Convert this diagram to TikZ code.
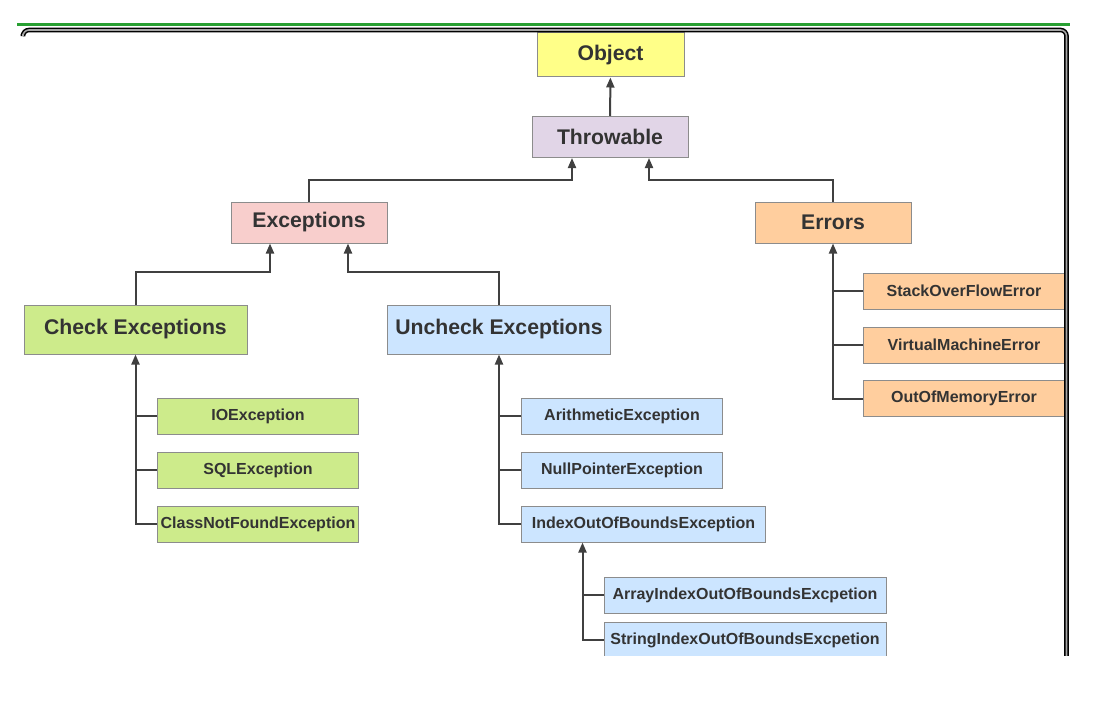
\documentclass[tikz,border=0pt]{standalone}
\usepackage{fontspec}
\setmainfont{Liberation Sans}
\usetikzlibrary{arrows.meta,positioning}
\definecolor{objyellow}{RGB}{255,255,136}
\definecolor{thrpurple}{RGB}{225,213,231}
\definecolor{excpink}{RGB}{248,206,204}
\definecolor{errorange}{RGB}{255,206,158}
\definecolor{chkgreen}{RGB}{205,235,139}
\definecolor{uncblue}{RGB}{204,229,255}
\definecolor{boxgray}{RGB}{140,140,140}
\definecolor{labelgray}{RGB}{51,51,51}
\definecolor{linkgray}{RGB}{64,64,64}
\definecolor{framegreen}{RGB}{40,160,50}

\begin{document}
\begin{tikzpicture}[x=0.5pt,y=-0.5pt,
    box/.style={draw=boxgray, line width=0.5pt, text=labelgray, inner sep=0pt,
      font=\bfseries\fontsize{10.6}{12}\selectfont, minimum width=78pt, minimum height=20.5pt},
    leaf/.style={box, font=\bfseries\fontsize{8}{9}\selectfont, minimum width=100.5pt, minimum height=18pt},
    link/.style={draw=linkgray, line width=1pt, -{Triangle[length=5pt,width=4pt]}},
    stub/.style={draw=linkgray, line width=1pt}]
\useasboundingbox (0,0) rectangle (1107,717);
\begin{scope}
\clip (0,0) rectangle (1107,655);

% Top of the hierarchy
\node[box, fill=objyellow, minimum width=73.5pt, minimum height=22pt] (obj) at (610.5,55) {Object};
\node[box, fill=thrpurple] (thr) at (610,137) {Throwable};
\node[box, fill=excpink] (exc) at (309,222.5) {Exceptions};
\node[box, fill=errorange] (err) at (833,222.5) {Errors};

% Exception kinds
\node[box, fill=chkgreen, minimum width=111.5pt, minimum height=24.5pt] (chk) at (135.5,329.5) {Check Exceptions};
\node[box, fill=uncblue, minimum width=111.5pt, minimum height=24.5pt] (unc) at (499,329.5) {Uncheck Exceptions};

% Checked exceptions
\node[leaf, fill=chkgreen] (ioe) at (258,416) {IOException};
\node[leaf, fill=chkgreen] (sqle) at (258,470) {SQLException};
\node[leaf, fill=chkgreen] (cnfe) at (258,524) {ClassNotFoundException};

% Unchecked exceptions
\node[leaf, fill=uncblue] (arie) at (622,416) {ArithmeticException};
\node[leaf, fill=uncblue] (npe) at (622,470) {NullPointerException};
\node[leaf, fill=uncblue, minimum width=122pt] (ioobe) at (643.5,524) {IndexOutOfBoundsException};
\node[leaf, fill=uncblue, minimum width=141pt] (aioobe) at (745,595) {ArrayIndexOutOfBoundsExcpetion};
\node[leaf, fill=uncblue, minimum width=141pt] (sioobe) at (745,640) {StringIndexOutOfBoundsExcpetion};

% Errors
\node[leaf, fill=errorange] (soe) at (964,291) {StackOverFlowError};
\node[leaf, fill=errorange] (vme) at (964,345) {VirtualMachineError};
\node[leaf, fill=errorange] (oome) at (964,398.5) {OutOfMemoryError};

% Connections
\draw[link] (thr) -- (obj);
\draw[link] (exc.north) -- ++(0,-22) -| ([xshift=-19pt]thr.south);
\draw[link] (err.north) -- ++(0,-22) -| ([xshift=19.5pt]thr.south);
\draw[link] (chk.north) -- ++(0,-33) -| ([xshift=-19.5pt]exc.south);
\draw[link] (unc.north) -- ++(0,-33) -| ([xshift=19.5pt]exc.south);

\draw[link] (cnfe.west) -| (chk.south);
\draw[stub] (ioe.west) -- (ioe.west -| chk.south);
\draw[stub] (sqle.west) -- (sqle.west -| chk.south);

\draw[link] (ioobe.west) -| (unc.south);
\draw[stub] (arie.west) -- (arie.west -| unc.south);
\draw[stub] (npe.west) -- (npe.west -| unc.south);

\draw[link] (sioobe.west) -| ([xshift=-30.5pt]ioobe.south);
\draw[stub] (aioobe.west) -- ++(-22,0);

\draw[link] (oome.west) -| (err.south);
\draw[stub] (soe.west) -- (soe.west -| err.south);
\draw[stub] (vme.west) -- (vme.west -| err.south);

% Window frame
\draw[framegreen, line width=1.3pt] (17,24.5) -- (1070,24.5);
\draw[black, double=gray!70, double distance=0.8pt, line width=0.75pt, rounded corners=3pt]
  (23,34) -- (23,30) -- (1066.5,30) -- (1066.5,660);
\end{scope}
\end{tikzpicture}
\end{document}
